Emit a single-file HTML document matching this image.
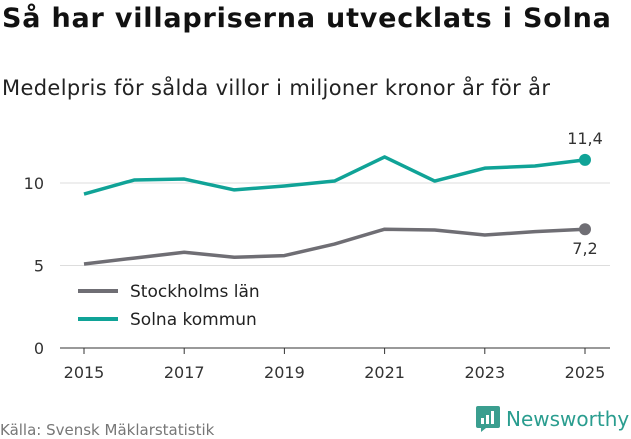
<!DOCTYPE html>
<html><head><meta charset="utf-8"><style>
body{margin:0;width:631px;height:439px;background:#fff;font-family:"DejaVu Sans","Liberation Sans",sans-serif;overflow:hidden;position:relative}
h1{position:absolute;left:2px;top:3px;margin:0;font-size:27px;font-weight:bold;color:#111;white-space:nowrap;letter-spacing:0.8px}
.sub{position:absolute;left:2px;top:76px;font-size:21px;color:#222;white-space:nowrap;letter-spacing:0.35px}
.src{position:absolute;left:0;top:421px;font-size:15px;color:#777}
.logo{position:absolute;left:476px;top:406px;font-size:20px;color:#2a9d8f;display:flex;align-items:center;gap:6px}
</style></head><body>
<h1>Så har villapriserna utvecklats i Solna</h1>
<div class="sub">Medelpris för sålda villor i miljoner kronor år för år</div>
<svg id="c" width="631" height="439" style="position:absolute;left:0;top:0;font-family:'DejaVu Sans',sans-serif"></svg>
<div class="src">Källa: Svensk Mäklarstatistik</div>
<div class="logo">
<svg width="24" height="26" viewBox="0 0 24 26"><path d="M2 0h20a2 2 0 0 1 2 2v18a2 2 0 0 1-2 2H10l-5 4v-4H2a2 2 0 0 1-2-2V2a2 2 0 0 1 2-2z" fill="#3a9e8f"/><rect x="5" y="12" width="3" height="6" fill="#fff"/><rect x="10" y="9" width="3" height="9" fill="#fff"/><rect x="15" y="5" width="3" height="13" fill="#fff"/></svg>
<span>Newsworthy</span></div>
<script>
const years=[2015,2016,2017,2018,2019,2020,2021,2022,2023,2024,2025];
const stockholm=[5.09,5.45,5.8,5.5,5.6,6.3,7.2,7.15,6.85,7.05,7.2];
const solna=[9.33,10.18,10.24,9.58,9.82,10.12,11.58,10.12,10.9,11.03,11.4];
const yTicks=[0,5,10];
const xTicks=[2015,2017,2019,2021,2023,2025];
const NS="http://www.w3.org/2000/svg";
const svg=document.getElementById('c');
const X=y=>84+(y-2015)*50.1;
const Y=v=>348-v*16.5;
function mk(t,a){const e=document.createElementNS(NS,t);for(const k in a)e.setAttribute(k,a[k]);svg.appendChild(e);return e;}
yTicks.forEach(v=>{
 if(v>0){const g=mk('line',{x1:60,x2:610,y1:Y(v),y2:Y(v),stroke:'#ddd','stroke-width':1});
 
 }
 const t=mk('text',{x:44,y:Y(v)+6,'text-anchor':'end','font-size':16,fill:'#333'});t.textContent=v;
 
 
});
const ax=mk('line',{x1:60,x2:610,y1:Y(0),y2:Y(0),stroke:'#333','stroke-width':1});


xTicks.forEach(y=>{
 const tk=mk('line',{x1:X(y),x2:X(y),y1:Y(0),y2:Y(0)+6,stroke:'#333'});
 
 
 const t=mk('text',{x:X(y),y:378,'text-anchor':'middle','font-size':16,fill:'#333'});t.textContent=y;
 
 
});
function series(vals,col,name,dy){
 const p=mk('polyline',{points:vals.map((v,i)=>X(years[i])+','+Y(v)).join(' '),fill:'none',stroke:col,'stroke-width':3.5,'stroke-linejoin':'round'});
 
 
 const n=vals.length-1;
 const c=mk('circle',{cx:X(years[n]),cy:Y(vals[n]),r:6,fill:col});
 
 
 const t=mk('text',{x:X(years[n]),y:Y(vals[n])+dy,'text-anchor':'middle','font-size':16,fill:'#333'});
 t.textContent=vals[n].toFixed(1).replace('.',',');
 
 
}
series(stockholm,'#6f6e74','stockholm',25);
series(solna,'#10a397','solna',-16);
[['Stockholms län','#6f6e74',291],['Solna kommun','#10a397',319]].forEach(([n,c,y])=>{
 const l=mk('line',{x1:78,x2:118,y1:y,y2:y,stroke:c,'stroke-width':4});
 
 
 const t=mk('text',{x:130,y:y+6,'font-size':17,fill:'#222'});t.textContent=n;
 
 
});
</script>
</body></html>
